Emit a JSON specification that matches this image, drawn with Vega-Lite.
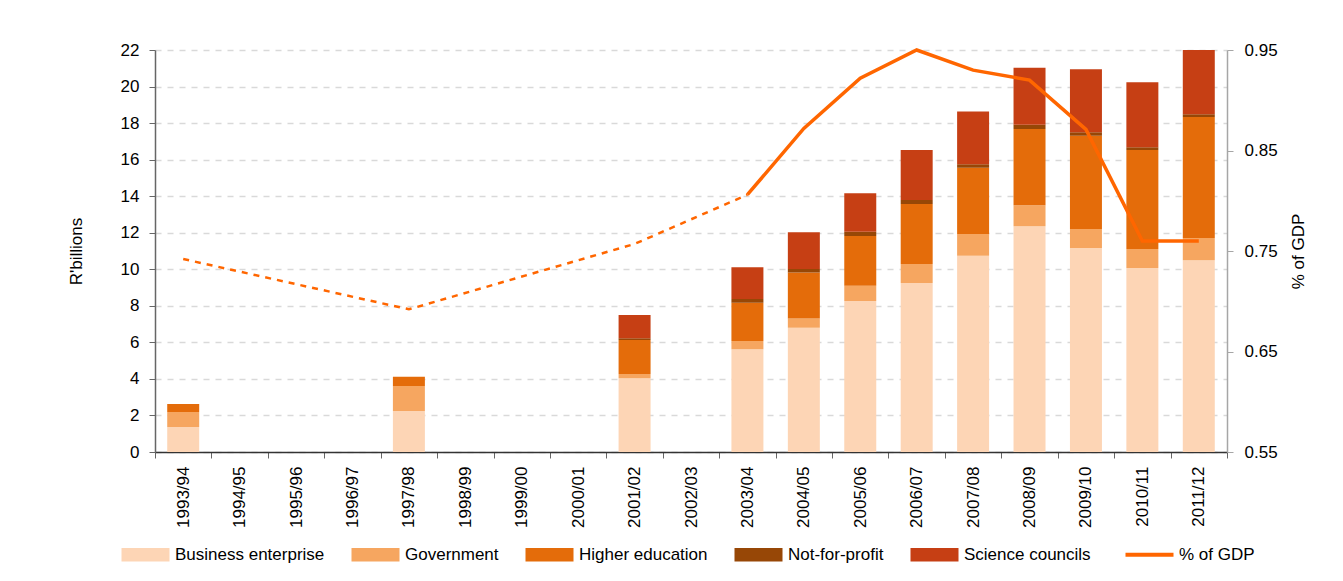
{
  "$schema": "https://vega.github.io/schema/vega-lite/v6.json",
  "width": 1072,
  "height": 402,
  "autosize": "none",
  "padding": {"left": 155, "top": 50, "right": 116, "bottom": 129},
  "background": "white",
  "datasets": {
    "rd": [
      {"year": "1993/94", "sector": "Business enterprise", "value": 1.37},
      {"year": "1993/94", "sector": "Government", "value": 0.82},
      {"year": "1993/94", "sector": "Higher education", "value": 0.44},
      {"year": "1997/98", "sector": "Business enterprise", "value": 2.24},
      {"year": "1997/98", "sector": "Government", "value": 1.37},
      {"year": "1997/98", "sector": "Higher education", "value": 0.51},
      {"year": "2001/02", "sector": "Business enterprise", "value": 4.03},
      {"year": "2001/02", "sector": "Government", "value": 0.24},
      {"year": "2001/02", "sector": "Higher education", "value": 1.86},
      {"year": "2001/02", "sector": "Not-for-profit", "value": 0.09},
      {"year": "2001/02", "sector": "Science councils", "value": 1.28},
      {"year": "2003/04", "sector": "Business enterprise", "value": 5.62},
      {"year": "2003/04", "sector": "Government", "value": 0.46},
      {"year": "2003/04", "sector": "Higher education", "value": 2.09},
      {"year": "2003/04", "sector": "Not-for-profit", "value": 0.2},
      {"year": "2003/04", "sector": "Science councils", "value": 1.74},
      {"year": "2004/05", "sector": "Business enterprise", "value": 6.8},
      {"year": "2004/05", "sector": "Government", "value": 0.51},
      {"year": "2004/05", "sector": "Higher education", "value": 2.52},
      {"year": "2004/05", "sector": "Not-for-profit", "value": 0.18},
      {"year": "2004/05", "sector": "Science councils", "value": 2.01},
      {"year": "2005/06", "sector": "Business enterprise", "value": 8.26},
      {"year": "2005/06", "sector": "Government", "value": 0.84},
      {"year": "2005/06", "sector": "Higher education", "value": 2.72},
      {"year": "2005/06", "sector": "Not-for-profit", "value": 0.24},
      {"year": "2005/06", "sector": "Science councils", "value": 2.1},
      {"year": "2006/07", "sector": "Business enterprise", "value": 9.25},
      {"year": "2006/07", "sector": "Government", "value": 1.04},
      {"year": "2006/07", "sector": "Higher education", "value": 3.28},
      {"year": "2006/07", "sector": "Not-for-profit", "value": 0.22},
      {"year": "2006/07", "sector": "Science councils", "value": 2.74},
      {"year": "2007/08", "sector": "Business enterprise", "value": 10.74},
      {"year": "2007/08", "sector": "Government", "value": 1.19},
      {"year": "2007/08", "sector": "Higher education", "value": 3.63},
      {"year": "2007/08", "sector": "Not-for-profit", "value": 0.19},
      {"year": "2007/08", "sector": "Science councils", "value": 2.88},
      {"year": "2008/09", "sector": "Business enterprise", "value": 12.35},
      {"year": "2008/09", "sector": "Government", "value": 1.15},
      {"year": "2008/09", "sector": "Higher education", "value": 4.18},
      {"year": "2008/09", "sector": "Not-for-profit", "value": 0.23},
      {"year": "2008/09", "sector": "Science councils", "value": 3.12},
      {"year": "2009/10", "sector": "Business enterprise", "value": 11.17},
      {"year": "2009/10", "sector": "Government", "value": 1.04},
      {"year": "2009/10", "sector": "Higher education", "value": 5.1},
      {"year": "2009/10", "sector": "Not-for-profit", "value": 0.19},
      {"year": "2009/10", "sector": "Science councils", "value": 3.45},
      {"year": "2010/11", "sector": "Business enterprise", "value": 10.07},
      {"year": "2010/11", "sector": "Government", "value": 1.04},
      {"year": "2010/11", "sector": "Higher education", "value": 5.42},
      {"year": "2010/11", "sector": "Not-for-profit", "value": 0.15},
      {"year": "2010/11", "sector": "Science councils", "value": 3.56},
      {"year": "2011/12", "sector": "Business enterprise", "value": 10.49},
      {"year": "2011/12", "sector": "Government", "value": 1.22},
      {"year": "2011/12", "sector": "Higher education", "value": 6.63},
      {"year": "2011/12", "sector": "Not-for-profit", "value": 0.14},
      {"year": "2011/12", "sector": "Science councils", "value": 3.52}
    ],
    "gdp": [
      {"year": "1993/94", "pct": 0.742, "segment": "estimate"},
      {"year": "1997/98", "pct": 0.692, "segment": "estimate"},
      {"year": "2001/02", "pct": 0.757, "segment": "estimate"},
      {"year": "2003/04", "pct": 0.806, "segment": "estimate"},
      {"year": "2003/04", "pct": 0.806, "segment": "survey"},
      {"year": "2004/05", "pct": 0.872, "segment": "survey"},
      {"year": "2005/06", "pct": 0.922, "segment": "survey"},
      {"year": "2006/07", "pct": 0.95, "segment": "survey"},
      {"year": "2007/08", "pct": 0.93, "segment": "survey"},
      {"year": "2008/09", "pct": 0.92, "segment": "survey"},
      {"year": "2009/10", "pct": 0.871, "segment": "survey"},
      {"year": "2010/11", "pct": 0.76, "segment": "survey"},
      {"year": "2011/12", "pct": 0.76, "segment": "survey"}
    ]
  },
  "encoding": {
    "x": {
      "field": "year",
      "type": "nominal",
      "scale": {
        "domain": ["1993/94", "1994/95", "1995/96", "1996/97", "1997/98", "1998/99", "1999/00", "2000/01", "2001/02", "2002/03", "2003/04", "2004/05", "2005/06", "2006/07", "2007/08", "2008/09", "2009/10", "2010/11", "2011/12"],
        "paddingInner": 0,
        "paddingOuter": 0
      },
      "axis": {
        "title": null,
        "labelAngle": 270,
        "tickBand": "extent",
        "tickSize": 6,
        "labelPadding": 8,
        "domainColor": "#333333",
        "tickColor": "#666666",
        "domainWidth": 1.5,
        "grid": false
      }
    }
  },
  "layer": [
    {
      "data": {"name": "rd"},
      "mark": {"type": "bar", "width": {"band": 0.567}},
      "encoding": {
        "y": {
          "aggregate": "sum",
          "field": "value",
          "type": "quantitative",
          "scale": {"domain": [0, 22], "nice": false},
          "axis": {
            "orient": "left",
            "title": "R'billions",
            "values": [0, 2, 4, 6, 8, 10, 12, 14, 16, 18, 20, 22],
            "tickSize": 6,
            "labelPadding": 10,
            "titlePadding": 35,
            "domainColor": "#666666",
            "domainWidth": 1.5,
            "tickColor": "#666666",
            "grid": true,
            "gridDash": [6, 6],
            "gridColor": "#d9d9d9",
            "gridWidth": 1.5
          }
        },
        "order": {"field": "sector", "sort": "ascending"},
        "color": {
          "field": "sector",
          "type": "nominal",
          "scale": {
            "domain": ["Business enterprise", "Government", "Higher education", "Not-for-profit", "Science councils", "% of GDP"],
            "range": ["#fdd5b5", "#f6a660", "#e46c0a", "#974706", "#c63f14", "#ff6600"]
          },
          "legend": {
            "orient": "none",
            "legendX": -18,
            "legendY": 496,
            "direction": "horizontal",
            "title": null,
            "columns": 6,
            "columnPadding": 26,
            "labelOffset": 21,
            "labelFontSize": 17,
            "labelColor": "#000000",
            "symbolSize": 2304,
            "symbolType": "M-1,-0.28H1V0.28H-1Z",
            "encode": {
              "symbols": {
                "update": {
                  "shape": {"signal": "datum.value === '% of GDP' ? 'stroke' : 'M-1,-0.28H1V0.28H-1Z'"},
                  "fill": {"signal": "datum.value === '% of GDP' ? 'transparent' : scale('color', datum.value)"},
                  "stroke": {"signal": "datum.value === '% of GDP' ? scale('color', datum.value) : 'transparent'"},
                  "strokeWidth": {"signal": "datum.value === '% of GDP' ? 4 : 0"},
                  "opacity": {"value": 1}
                }
              }
            }
          }
        }
      }
    },
    {
      "data": {"name": "gdp"},
      "encoding": {
        "y": {
          "field": "pct",
          "type": "quantitative",
          "scale": {"domain": [0.55, 0.95], "nice": false, "zero": false},
          "axis": {
            "orient": "right",
            "title": "% of GDP",
            "titleAngle": 270,
            "titleBaseline": "top",
            "values": [0.55, 0.65, 0.75, 0.85, 0.95],
            "format": ".2f",
            "tickSize": 6,
            "labelPadding": 11,
            "titlePadding": 13,
            "domainColor": "#a6a6a6",
            "domainWidth": 1.5,
            "tickColor": "#a6a6a6",
            "grid": false
          }
        },
        "color": {"datum": "% of GDP"}
      },
      "layer": [
        {
          "transform": [{"filter": "datum.segment === 'estimate'"}],
          "mark": {"type": "line", "strokeDash": [6, 6], "strokeWidth": 2.5}
        },
        {
          "transform": [{"filter": "datum.segment === 'survey'"}],
          "mark": {"type": "line", "strokeWidth": 3.5}
        }
      ]
    }
  ],
  "resolve": {"scale": {"y": "independent"}},
  "config": {
    "font": "Liberation Sans",
    "view": {"stroke": null},
    "axis": {
      "labelFont": "Liberation Sans",
      "titleFont": "Liberation Sans",
      "labelFontSize": 17,
      "titleFontSize": 17,
      "titleFontWeight": "normal",
      "labelColor": "#000000",
      "titleColor": "#000000"
    },
    "legend": {"labelFont": "Liberation Sans"}
  }
}
